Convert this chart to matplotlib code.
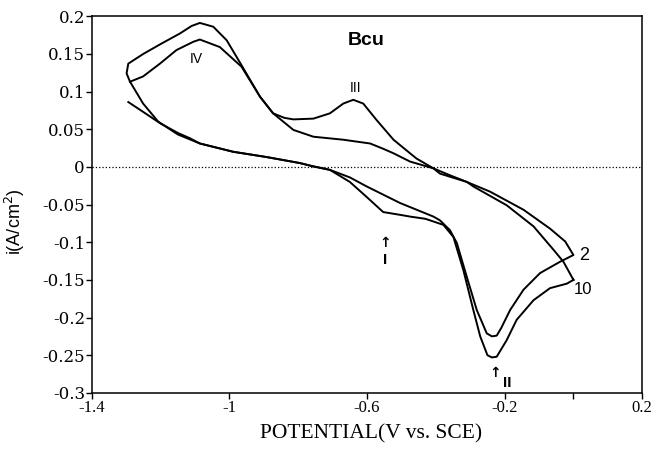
import matplotlib
matplotlib.use("Agg")
import matplotlib.pyplot as plt

# data
# ----------
# cycle 10: right end -> cathodic branch (peaks II, I) -> left end -> anodic branch (IV, III) -> right end
cyc10_E = [0.0, -0.019, -0.068, -0.116, -0.165, -0.194, -0.223, -0.237, -0.250, -0.271,
           -0.291, -0.320, -0.349, -0.378, -0.430, -0.475, -0.500, -0.553, -0.601, -0.650,
           -0.708, -0.760, -0.795, -0.892, -0.989, -1.086, -1.150, -1.207, -1.251, -1.289,
           -1.299, -1.294, -1.250, -1.200, -1.144, -1.110, -1.086, -1.047, -1.008, -0.965,
           -0.911, -0.873, -0.840, -0.814, -0.756, -0.708, -0.669, -0.640, -0.611, -0.572,
           -0.523, -0.475, -0.456, -0.407, -0.360, -0.310, -0.291, -0.194, -0.116, -0.058,
           -0.029, 0.0]
cyc10_i = [-0.150, -0.155, -0.161, -0.177, -0.203, -0.230, -0.252, -0.253, -0.250, -0.225,
           -0.190, -0.137, -0.093, -0.077, -0.069, -0.066, -0.064, -0.060, -0.040, -0.020,
           -0.004, 0.001, 0.005, 0.013, 0.020, 0.031, 0.043, 0.060, 0.084, 0.113,
           0.124, 0.137, 0.150, 0.163, 0.177, 0.187, 0.191, 0.186, 0.168, 0.135,
           0.093, 0.071, 0.065, 0.063, 0.064, 0.071, 0.084, 0.089, 0.084, 0.062,
           0.036, 0.018, 0.011, -0.002, -0.011, -0.020, -0.026, -0.051, -0.079, -0.110,
           -0.126, -0.150]

# cycle 2: left start -> anodic branch -> right end -> cathodic branch -> left end (open)
cyc2_E = [-1.289, -1.251, -1.202, -1.154, -1.105, -1.086, -1.028, -0.965, -0.911, -0.873,
          -0.814, -0.756, -0.669, -0.591, -0.553, -0.523, -0.475, -0.407, -0.388, -0.310,
          -0.242, -0.145, -0.068, -0.024, 0.0, -0.039, -0.097, -0.145, -0.184, -0.210,
          -0.223, -0.237, -0.252, -0.281, -0.310, -0.339, -0.359, -0.388, -0.407, -0.504,
          -0.601, -0.650, -0.708, -0.760, -0.795, -0.892, -0.989, -1.086, -1.115, -1.150,
          -1.202, -1.251, -1.294]
cyc2_i = [0.113, 0.120, 0.137, 0.155, 0.166, 0.169, 0.159, 0.133, 0.093, 0.071,
          0.049, 0.040, 0.036, 0.031, 0.024, 0.018, 0.007, -0.002, -0.009, -0.020,
          -0.033, -0.057, -0.082, -0.099, -0.117, -0.126, -0.141, -0.163, -0.190, -0.214,
          -0.224, -0.225, -0.221, -0.190, -0.146, -0.101, -0.084, -0.071, -0.066, -0.048,
          -0.026, -0.014, -0.004, 0.001, 0.005, 0.013, 0.020, 0.031, 0.038, 0.045,
          0.058, 0.073, 0.086]

x_ticks = [-1.4, -1.0, -0.6, -0.2, 0.0, 0.2]
x_tick_labels = ["-1.4", "-1", "-0.6", "-0.2", "", "0.2"]
y_ticks = [0.2, 0.15, 0.1, 0.05, 0.0, -0.05, -0.1, -0.15, -0.2, -0.25, -0.3]
y_tick_labels = ["0.2", "0.15", "0.1", "0.05", "0", "-0.05", "-0.1", "-0.15", "-0.2", "-0.25", "-0.3"]

# plot settings
# ----------
serif = "Liberation Serif"
sans = "Liberation Sans"

fig = plt.figure(figsize=(6.56, 4.49), dpi=100)
ax = fig.add_axes([0.140, 0.125, 0.839, 0.839])

ax.plot(cyc10_E, cyc10_i, color="black", lw=1.4)
ax.plot(cyc2_E, cyc2_i, color="black", lw=1.4)
ax.axhline(0, color="black", ls=":", lw=0.9)

ax.set_xlim(-1.4, 0.2)
ax.set_ylim(-0.3, 0.2)
ax.set_xticks(x_ticks)
ax.set_xticklabels(x_tick_labels, family=serif, fontsize=12)
ax.set_yticks(y_ticks)
ax.set_yticklabels(y_tick_labels, family="DejaVu Serif", fontsize=12)
ax.tick_params(direction="out", length=4, width=1, pad=1)
for sp in ax.spines.values():
    sp.set_linewidth(1.1)

ax.set_xlabel("POTENTIAL(V vs. SCE)", family=serif, fontsize=15.5, labelpad=1)
ax.xaxis.set_label_coords(0.507, -0.083)
ax.set_ylabel("i(A/cm$^2$)", family=sans, fontsize=13)
ax.yaxis.set_label_coords(-0.118, 0.454)

# annotations
ax.text(-0.603, 0.168, "Bcu", family=sans, fontsize=14, weight="bold", ha="center", va="center")
ax.text(-1.095, 0.143, "IV", family=sans, fontsize=10, ha="center", va="center")
ax.text(-0.633, 0.105, "III", family=sans, fontsize=10, ha="center", va="center")
ax.text(0.030, -0.118, "2", family=sans, fontsize=13, ha="center", va="center")
ax.text(0.027, -0.163, "10", family=sans, fontsize=12, ha="center", va="center")
ax.text(-0.548, -0.101, "\u2191", family="DejaVu Sans", fontsize=10, weight="bold", ha="center", va="center")
ax.text(-0.548, -0.124, "I", family=sans, fontsize=11, weight="bold", ha="center", va="center")
ax.text(-0.228, -0.274, "\u2191", family="DejaVu Sans", fontsize=10, weight="bold", ha="center", va="center")
ax.text(-0.193, -0.287, "II", family=sans, fontsize=11, weight="bold", ha="center", va="center")

fig.savefig("out.png", dpi=100)
